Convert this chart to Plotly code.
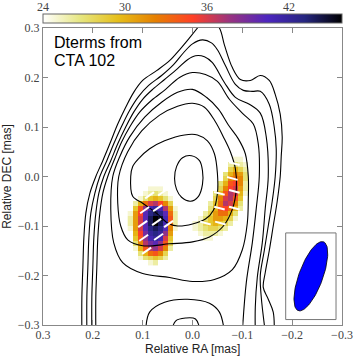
import numpy as np
import plotly.graph_objects as go

n = np.nan

# ---------------- contour lines of total intensity (RA, DEC in mas) ----------------
C0_RA = [0.222,0.222,0.220,0.218,0.214,0.206,0.194,0.180,0.166,0.150,0.134,0.118,0.100,0.072,0.046,0.026,0.006,-0.010,-0.030,-0.054,-0.064,-0.080,-0.096,-0.116,-0.136,-0.154,-0.166,-0.176,-0.180,-0.178,-0.176,-0.170,-0.162,-0.154,-0.146,-0.142,-0.152,-0.162,-0.164]
C0_DEC = [-0.314,-0.244,-0.184,-0.124,-0.074,-0.034,0.000,0.032,0.066,0.106,0.140,0.170,0.194,0.214,0.234,0.256,0.280,0.300,0.326,0.300,0.266,0.220,0.196,0.194,0.204,0.194,0.166,0.126,0.080,0.040,0.000,-0.050,-0.100,-0.150,-0.194,-0.224,-0.248,-0.274,-0.314]

C1_RA = [0.212,0.212,0.210,0.208,0.204,0.196,0.186,0.172,0.158,0.142,0.126,0.108,0.088,0.062,0.038,0.018,0.000,-0.020,-0.038,-0.050,-0.066,-0.086,-0.102,-0.120,-0.136,-0.154,-0.164,-0.168,-0.166,-0.160,-0.152,-0.144,-0.136,-0.138,-0.146]
C1_DEC = [-0.314,-0.244,-0.184,-0.124,-0.074,-0.034,0.000,0.032,0.066,0.102,0.134,0.162,0.184,0.204,0.226,0.250,0.268,0.276,0.270,0.256,0.224,0.186,0.174,0.172,0.172,0.146,0.100,0.056,0.000,-0.050,-0.100,-0.150,-0.200,-0.244,-0.314]

C2_RA = [0.202,0.202,0.200,0.198,0.194,0.188,0.178,0.164,0.150,0.134,0.118,0.100,0.080,0.056,0.030,0.010,-0.006,-0.024,-0.040,-0.064,-0.086,-0.114,-0.136,-0.148,-0.152,-0.146,-0.140,-0.130,-0.126,-0.126]
C2_DEC = [-0.314,-0.244,-0.184,-0.124,-0.074,-0.034,0.000,0.032,0.066,0.100,0.130,0.156,0.176,0.196,0.218,0.236,0.244,0.242,0.230,0.190,0.160,0.146,0.128,0.080,0.000,-0.064,-0.134,-0.204,-0.264,-0.314]

C3_RA = [0.194,0.194,0.192,0.190,0.186,0.180,0.170,0.156,0.142,0.126,0.106,0.082,0.054,0.026,0.000,-0.026,-0.050,-0.074,-0.102,-0.122,-0.132,-0.134,-0.128,-0.120,-0.108,-0.100]
C3_DEC = [-0.314,-0.244,-0.184,-0.124,-0.074,-0.034,0.000,0.036,0.070,0.100,0.130,0.154,0.176,0.200,0.210,0.206,0.192,0.156,0.126,0.106,0.066,0.000,-0.064,-0.134,-0.214,-0.314]

V3_RA = [0.094,0.086,0.056,0.010,-0.034,-0.054,-0.064]
V3_DEC = [-0.314,-0.274,-0.254,-0.248,-0.256,-0.274,-0.314]
V2_RA = [0.042,0.034,0.014,-0.006,-0.016]
V2_DEC = [-0.314,-0.292,-0.286,-0.288,-0.314]

C4_RA = [0.160,0.164,0.158,0.140,0.100,0.046,0.000,-0.044,-0.080,-0.100,-0.110,-0.112,-0.112,-0.106,-0.092,-0.072,-0.052,-0.028,0.000,0.030,0.062,0.096,0.126,0.146,0.160]
C4_DEC = [0.000,-0.066,-0.134,-0.174,-0.196,-0.204,-0.212,-0.208,-0.188,-0.148,-0.094,-0.044,0.000,0.046,0.076,0.104,0.136,0.160,0.176,0.170,0.150,0.120,0.080,0.040,0.000]

C5_RA = [0.148,0.150,0.144,0.130,0.100,0.046,0.000,-0.034,-0.062,-0.080,-0.088,-0.086,-0.076,-0.062,-0.045,-0.024,0.000,0.030,0.066,0.102,0.130,0.148]
C5_DEC = [0.000,-0.054,-0.100,-0.128,-0.140,-0.136,-0.132,-0.122,-0.100,-0.066,-0.024,0.016,0.050,0.080,0.112,0.140,0.148,0.142,0.124,0.092,0.050,0.000]

C6_RA = [0.124,0.120,0.100,0.086,0.070,0.050,0.030,0.000,-0.026,-0.042,-0.050,-0.050,-0.044,-0.030,-0.010,0.016,0.056,0.086,0.108,0.120,0.124]
C6_DEC = [0.000,-0.040,-0.054,-0.064,-0.076,-0.094,-0.100,-0.096,-0.086,-0.068,-0.034,0.006,0.046,0.072,0.084,0.084,0.072,0.056,0.036,0.020,0.000]

C7_RA = [0.036,0.032,0.020,0.002,-0.014,-0.020,-0.020,-0.012,0.004,0.022,0.032,0.036]
C7_DEC = [-0.004,0.020,0.038,0.042,0.032,0.012,-0.016,-0.040,-0.050,-0.042,-0.026,-0.004]

CONTOURS = [(C0_RA, C0_DEC), (C1_RA, C1_DEC), (C2_RA, C2_DEC), (C3_RA, C3_DEC),
            (V3_RA, V3_DEC), (V2_RA, V2_DEC), (C4_RA, C4_DEC), (C5_RA, C5_DEC),
            (C6_RA, C6_DEC), (C7_RA, C7_DEC)]

# ---------------- D-term amplitude patches (pixel maps) ----------------
LEFT_RA = [0.125, 0.115, 0.105, 0.095, 0.085, 0.075, 0.065, 0.055, 0.045, 0.035]
LEFT_DEC = [-0.025, -0.035, -0.045, -0.055, -0.065, -0.075, -0.085, -0.095,
            -0.105, -0.115, -0.125, -0.135, -0.145, -0.155, -0.165, -0.175]
LEFT_VAL = [
    [n, n, n, n, 25, 25, 25, n, n, n],
    [n, n, n, 25, 26, 27, 26, 25, n, n],
    [n, n, 25, 27, 29, 30, 29, 27, 25, n],
    [n, 26, 30, 33, 36, 37, 35, 32, 28, n],
    [n, 29, 34, 38, 41, 42, 41, 37, 31, 25],
    [25, 31, 35, 40, 43, 44, 43, 40, 33, 26],
    [26, 31, 36, 40, 44, 46, 45, 41, 34, 26],
    [26, 31, 36, 40, 44, 46, 44, 41, 33, 26],
    [25, 31, 36, 40, 43, 44, 43, 40, 32, 25],
    [n, 30, 35, 39, 42, 43, 42, 38, 31, n],
    [n, 29, 34, 38, 41, 42, 41, 36, 29, n],
    [n, 27, 32, 37, 39, 40, 38, 34, 28, n],
    [n, 25, 30, 34, 37, 38, 36, 32, 26, n],
    [n, n, 27, 30, 33, 34, 32, 28, n, n],
    [n, n, 25, 27, 28, 29, 28, 26, n, n],
    [n, n, n, n, 25, 26, n, n, n, n],
]

RIGHT_RA = [-0.005, -0.015, -0.025, -0.035, -0.045, -0.055, -0.065, -0.075, -0.085, -0.095, -0.105, -0.115]
RIGHT_DEC = [0.035, 0.025, 0.015, 0.005, -0.005, -0.015, -0.025, -0.035, -0.045,
             -0.055, -0.065, -0.075, -0.085, -0.095, -0.105, -0.115, -0.125]
RIGHT_VAL = [
    [n, n, n, n, n, n, n, n, 25, 25, n, n],
    [n, n, n, n, n, n, n, 26, 27, 26, 25, n],
    [n, n, n, n, n, n, n, 28, 30, 28, 26, n],
    [n, n, n, n, n, n, 27, 30, 32, 31, 27, n],
    [n, n, n, n, n, n, 28, 32, 33, 32, 27, n],
    [n, n, n, n, n, 27, 30, 34, 35, 32, 26, n],
    [n, n, n, n, n, 28, 32, 35, 36, 31, 26, n],
    [n, n, n, n, 27, 30, 34, 37, 36, 30, 25, n],
    [n, n, n, n, 28, 32, 36, 37, 34, 29, n, n],
    [n, n, n, 26, 29, 33, 37, 36, 32, 27, n, n],
    [n, n, n, 27, 30, 34, 35, 33, 30, 26, n, n],
    [n, n, 26, 28, 31, 33, 33, 30, 27, n, n, n],
    [n, 25, 27, 29, 31, 31, 30, 28, 25, n, n, n],
    [25, 26, 28, 29, 30, 29, 28, 26, n, n, n, n],
    [25, 26, 27, 28, 28, 27, 26, n, n, n, n, n],
    [n, 25, 26, 26, 26, 25, n, n, n, n, n, n],
    [n, n, 25, 25, n, n, n, n, n, n, n, n],
]

# ---------------- polarization-angle ticks ----------------
TICK_RA = [0.086, 0.060, 0.096, 0.070, 0.100, 0.072, 0.048, 0.098, 0.068, 0.092,
           -0.084, -0.080, -0.054, -0.084, -0.054, -0.084, -0.026, -0.056]
TICK_DEC = [-0.038, -0.032, -0.068, -0.064, -0.096, -0.092, -0.096, -0.124, -0.122, -0.150,
            0.026, -0.004, -0.034, -0.030, -0.064, -0.064, -0.094, -0.094]
TICK_PA = [-55, -55, -55, -55, -55, -55, -55, -55, -55, -55,
           75, 75, 75, 75, 75, 75, 75, 75]

# ---------------- beam ----------------
BEAM_RA, BEAM_DEC = -0.2375, -0.2015
BEAM_MAJ, BEAM_MIN, BEAM_PA = 0.148, 0.048, -20.0   # full axes (mas), PA (deg)

CB_MIN, CB_MAX = 24, 45.9
CB_TICKS = [24, 30, 36, 42]
X_TICKS = [0.3, 0.2, 0.1, 0.0, -0.1, -0.2, -0.3]
X_TEXT = ["0.3", "0.2", "0.1", "0.0", "\u22120.1", "\u22120.2", "\u22120.3"]
Y_TICKS = [-0.3, -0.2, -0.1, 0.0, 0.1, 0.2, 0.3]
Y_TEXT = ["\u22120.3", "\u22120.2", "\u22120.1", "0.0", "0.1", "0.2", "0.3"]

CMR_R = [[0.0, "rgb(255,255,255)"], [0.125, "rgb(230,230,128)"], [0.25, "rgb(230,191,26)"],
         [0.375, "rgb(230,128,0)"], [0.5, "rgb(255,64,38)"], [0.625, "rgb(153,51,128)"],
         [0.75, "rgb(77,38,191)"], [0.875, "rgb(38,38,128)"], [1.0, "rgb(0,0,0)"]]

fig = go.Figure()

for ra, dec, val in [(LEFT_RA, LEFT_DEC, LEFT_VAL), (RIGHT_RA, RIGHT_DEC, RIGHT_VAL)]:
    fig.add_trace(go.Heatmap(x=ra, y=dec, z=val, coloraxis="coloraxis",
                             hoverinfo="skip", showscale=False))

for ra, dec in CONTOURS:
    fig.add_trace(go.Scatter(x=ra, y=dec, mode="lines",
                             line=dict(color="black", width=1.1, shape="spline", smoothing=1.0),
                             hoverinfo="skip", showlegend=False))

# polarization ticks
half = 0.011
tx, ty = [], []
for r, d, pa in zip(TICK_RA, TICK_DEC, TICK_PA):
    a = np.deg2rad(pa)
    dx, dy = half * np.sin(a), half * np.cos(a)
    tx += [r - dx, r + dx, None]
    ty += [d - dy, d + dy, None]
fig.add_trace(go.Scatter(x=tx, y=ty, mode="lines", line=dict(color="white", width=2),
                         hoverinfo="skip", showlegend=False))

# beam box and ellipse
BOX_HW, BOX_HH = 0.0505, 0.0875
fig.add_shape(type="rect", xref="x", yref="y",
              x0=BEAM_RA - BOX_HW, x1=BEAM_RA + BOX_HW,
              y0=BEAM_DEC - BOX_HH, y1=BEAM_DEC + BOX_HH,
              line=dict(color="#777777", width=1), fillcolor="white", layer="below")
t = np.linspace(0, 2 * np.pi, 120)
pa = np.deg2rad(BEAM_PA)
amaj, amin = BEAM_MAJ / 2, BEAM_MIN / 2
ex = BEAM_RA + amaj * np.cos(t) * np.sin(pa) + amin * np.sin(t) * np.cos(pa)
ey = BEAM_DEC + amaj * np.cos(t) * np.cos(pa) - amin * np.sin(t) * np.sin(pa)
fig.add_trace(go.Scatter(x=ex, y=ey, mode="lines", fill="toself", fillcolor="#0000ff",
                         line=dict(color="black", width=0.8), hoverinfo="skip", showlegend=False))

tickfont = dict(family="Liberation Serif", size=12, color="#444444")
axis_common = dict(showgrid=False, zeroline=False, showline=True, linecolor="#888888",
                   linewidth=1, mirror="ticks", ticks="inside", ticklen=5,
                   tickcolor="#888888", tickfont=tickfont)

PLOT_H = 357 - 28 - 32
annotations = [
    dict(text="Dterms from", xref="paper", yref="paper", x=0.031, y=0.95,
         xanchor="left", yanchor="middle", showarrow=False,
         font=dict(family="Liberation Sans", size=16, color="black")),
    dict(text="CTA 102", xref="paper", yref="paper", x=0.031, y=0.89,
         xanchor="left", yanchor="middle", showarrow=False,
         font=dict(family="Liberation Sans", size=16, color="black")),
    dict(text="Relative RA [mas]", xref="paper", yref="paper", x=0.5, y=-24.5 / PLOT_H,
         xanchor="center", yanchor="middle", showarrow=False,
         font=dict(family="Liberation Sans", size=12, color="#222222")),
]
for v in CB_TICKS:
    annotations.append(dict(text=str(v), xref="paper", yref="paper",
                            x=(v - CB_MIN) / (CB_MAX - CB_MIN), y=1 + 21 / PLOT_H,
                            xanchor="center", yanchor="middle", showarrow=False,
                            font=tickfont))

fig.update_layout(
    width=357, height=357,
    margin=dict(l=43, r=15, t=28, b=32, autoexpand=False),
    paper_bgcolor="white", plot_bgcolor="white",
    showlegend=False,
    xaxis=dict(range=[0.3, -0.3], tickvals=X_TICKS, ticktext=X_TEXT,
               ticklabelstandoff=-1, **axis_common),
    yaxis=dict(range=[-0.3, 0.3], tickvals=Y_TICKS, ticktext=Y_TEXT,
               title=dict(text="Relative DEC [mas]", standoff=6,
                          font=dict(family="Liberation Sans", size=12, color="#222222")),
               **axis_common),
    coloraxis=dict(colorscale=CMR_R, cmin=CB_MIN, cmax=CB_MAX,
                   colorbar=dict(orientation="h", x=0.5, xanchor="center", y=1 + 4 / PLOT_H,
                                 yanchor="bottom", len=299, lenmode="pixels", thickness=9,
                                 xpad=0, ypad=0, outlinecolor="#666666", outlinewidth=1,
                                 tickvals=CB_TICKS, ticks="", showticklabels=False)),
    annotations=annotations,
)

fig.write_html("out.html", config={"displayModeBar": False},
               post_script="document.body.style.margin='0px';")
